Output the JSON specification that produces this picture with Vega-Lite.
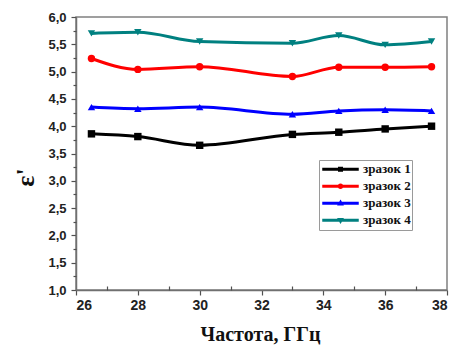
{
  "$schema": "https://vega.github.io/schema/vega-lite/v6.json",
  "width": 371,
  "height": 273,
  "autosize": {"type": "none"},
  "padding": {"left": 76, "top": 17, "right": 12, "bottom": 57},
  "background": "white",
  "config": {
    "view": {"stroke": "#808080", "strokeWidth": 1.5},
    "axis": {
      "domainColor": "#707070", "domainWidth": 1.5, "tickColor": "#505050", "tickWidth": 1.2,
      "grid": false, "labelFont": "Liberation Sans", "labelFontWeight": "bold", "labelFontSize": 13, "labelColor": "#222222"
    },
    "point": {"filled": true, "size": 55, "opacity": 1}
  },
  "data": {"values": [
    {"f": 26.5, "e": 3.86, "s": "зразок 1"}, {"f": 28, "e": 3.81, "s": "зразок 1"}, {"f": 30, "e": 3.65, "s": "зразок 1"}, {"f": 33, "e": 3.85, "s": "зразок 1"}, {"f": 34.5, "e": 3.89, "s": "зразок 1"}, {"f": 36, "e": 3.95, "s": "зразок 1"}, {"f": 37.5, "e": 4.0, "s": "зразок 1"},
    {"f": 26.5, "e": 5.24, "s": "зразок 2"}, {"f": 28, "e": 5.04, "s": "зразок 2"}, {"f": 30, "e": 5.09, "s": "зразок 2"}, {"f": 33, "e": 4.91, "s": "зразок 2"}, {"f": 34.5, "e": 5.08, "s": "зразок 2"}, {"f": 36, "e": 5.08, "s": "зразок 2"}, {"f": 37.5, "e": 5.09, "s": "зразок 2"},
    {"f": 26.5, "e": 4.35, "s": "зразок 3"}, {"f": 28, "e": 4.32, "s": "зразок 3"}, {"f": 30, "e": 4.35, "s": "зразок 3"}, {"f": 33, "e": 4.22, "s": "зразок 3"}, {"f": 34.5, "e": 4.28, "s": "зразок 3"}, {"f": 36, "e": 4.3, "s": "зразок 3"}, {"f": 37.5, "e": 4.28, "s": "зразок 3"},
    {"f": 26.5, "e": 5.7, "s": "зразок 4"}, {"f": 28, "e": 5.72, "s": "зразок 4"}, {"f": 30, "e": 5.55, "s": "зразок 4"}, {"f": 33, "e": 5.52, "s": "зразок 4"}, {"f": 34.5, "e": 5.66, "s": "зразок 4"}, {"f": 36, "e": 5.49, "s": "зразок 4"}, {"f": 37.5, "e": 5.55, "s": "зразок 4"}
  ]},
  "resolve": {"axis": {"x": "independent", "y": "independent"}},
  "layer": [
    {
      "mark": {"type": "line", "interpolate": "monotone", "strokeWidth": 3},
      "encoding": {
        "x": {"field": "f", "type": "quantitative", "scale": {"domain": [26, 38], "nice": false},
          "axis": {"values": [26, 28, 30, 32, 34, 36, 38], "tickSize": 5, "labelPadding": 3, "labelFontSize": 14,
            "title": "Частота, ГГц", "titleFont": "Liberation Serif", "titleFontWeight": "bold", "titleFontSize": 20, "titleColor": "#111111",
            "titleX": 184, "titleY": 50, "titleBaseline": "alphabetic", "titleAlign": "center"}},
        "y": {"field": "e", "type": "quantitative", "scale": {"domain": [1, 6], "nice": false, "zero": false},
          "axis": {"values": [1, 1.5, 2, 2.5, 3, 3.5, 4, 4.5, 5, 5.5, 6], "tickSize": 5, "labelPadding": 5,
            "labelExpr": "replace(format(datum.value, '.1f'), '.', ',')",
            "title": "ε'", "titleFont": "Liberation Serif", "titleFontWeight": "bold", "titleFontSize": 26, "titleColor": "#111111",
            "titleAngle": -90, "titleX": -43, "titleY": 160, "titleAlign": "center", "titleBaseline": "alphabetic"}},
        "color": {"field": "s", "type": "nominal",
          "scale": {"domain": ["зразок 1", "зразок 2", "зразок 3", "зразок 4"], "range": ["#000000", "#ff0000", "#0000ff", "#008080"]},
          "legend": {"orient": "none", "legendX": 243, "legendY": 143, "title": null,
            "padding": 1, "fillColor": "white", "strokeColor": "#9a9a9a",
            "symbolSize": 1225, "clipHeight": 16.5, "rowPadding": 0, "symbolOffset": 2, "labelOffset": 4,
            "labelFont": "Liberation Serif", "labelFontWeight": "bold", "labelFontSize": 13, "labelColor": "#111111",
            "encode": {"symbols": {"update": {
              "shape": {"signal": "datum.value == 'зразок 1' ? 'M-1,-0.045H1V0.045H-1Z M-0.1,-0.1H0.1V0.1H-0.1Z' : datum.value == 'зразок 2' ? 'M-1,-0.045H1V0.045H-1Z M-0.11,0A0.11,0.11 0 1,0 0.11,0A0.11,0.11 0 1,0 -0.11,0Z' : datum.value == 'зразок 3' ? 'M-1,-0.045H1V0.045H-1Z M0,-0.13L0.12,0.08L-0.12,0.08Z' : 'M-1,-0.045H1V0.045H-1Z M0,0.13L0.12,-0.08L-0.12,-0.08Z'"},
              "fill": {"signal": "scale('color', datum.value)"},
              "stroke": {"signal": "'transparent'"}
            }}}
          }}
      }
    },
    {
      "transform": [{"filter": "datum.s == 'зразок 1'"}],
      "mark": {"type": "point", "shape": "square"},
      "encoding": {
        "x": {"field": "f", "type": "quantitative",
          "axis": {"orient": "bottom", "values": [27, 29, 31, 33, 35, 37], "tickSize": -4, "labels": false, "domain": false, "title": null}},
        "y": {"field": "e", "type": "quantitative",
          "axis": {"orient": "left", "values": [1.25, 1.75, 2.25, 2.75, 3.25, 3.75, 4.25, 4.75, 5.25, 5.75], "tickSize": 3, "labels": false, "domain": false, "title": null}},
        "color": {"field": "s", "type": "nominal", "legend": null}
      }
    },
    {
      "transform": [{"filter": "datum.s == 'зразок 2'"}],
      "mark": {"type": "point", "shape": "circle"},
      "encoding": {
        "x": {"field": "f", "type": "quantitative", "axis": null},
        "y": {"field": "e", "type": "quantitative", "axis": null},
        "color": {"field": "s", "type": "nominal", "legend": null}
      }
    },
    {
      "transform": [{"filter": "datum.s == 'зразок 3'"}],
      "mark": {"type": "point", "shape": "triangle-up"},
      "encoding": {
        "x": {"field": "f", "type": "quantitative", "axis": null},
        "y": {"field": "e", "type": "quantitative", "axis": null},
        "color": {"field": "s", "type": "nominal", "legend": null}
      }
    },
    {
      "transform": [{"filter": "datum.s == 'зразок 4'"}],
      "mark": {"type": "point", "shape": "triangle-down"},
      "encoding": {
        "x": {"field": "f", "type": "quantitative", "axis": null},
        "y": {"field": "e", "type": "quantitative", "axis": null},
        "color": {"field": "s", "type": "nominal", "legend": null}
      }
    }
  ]
}
